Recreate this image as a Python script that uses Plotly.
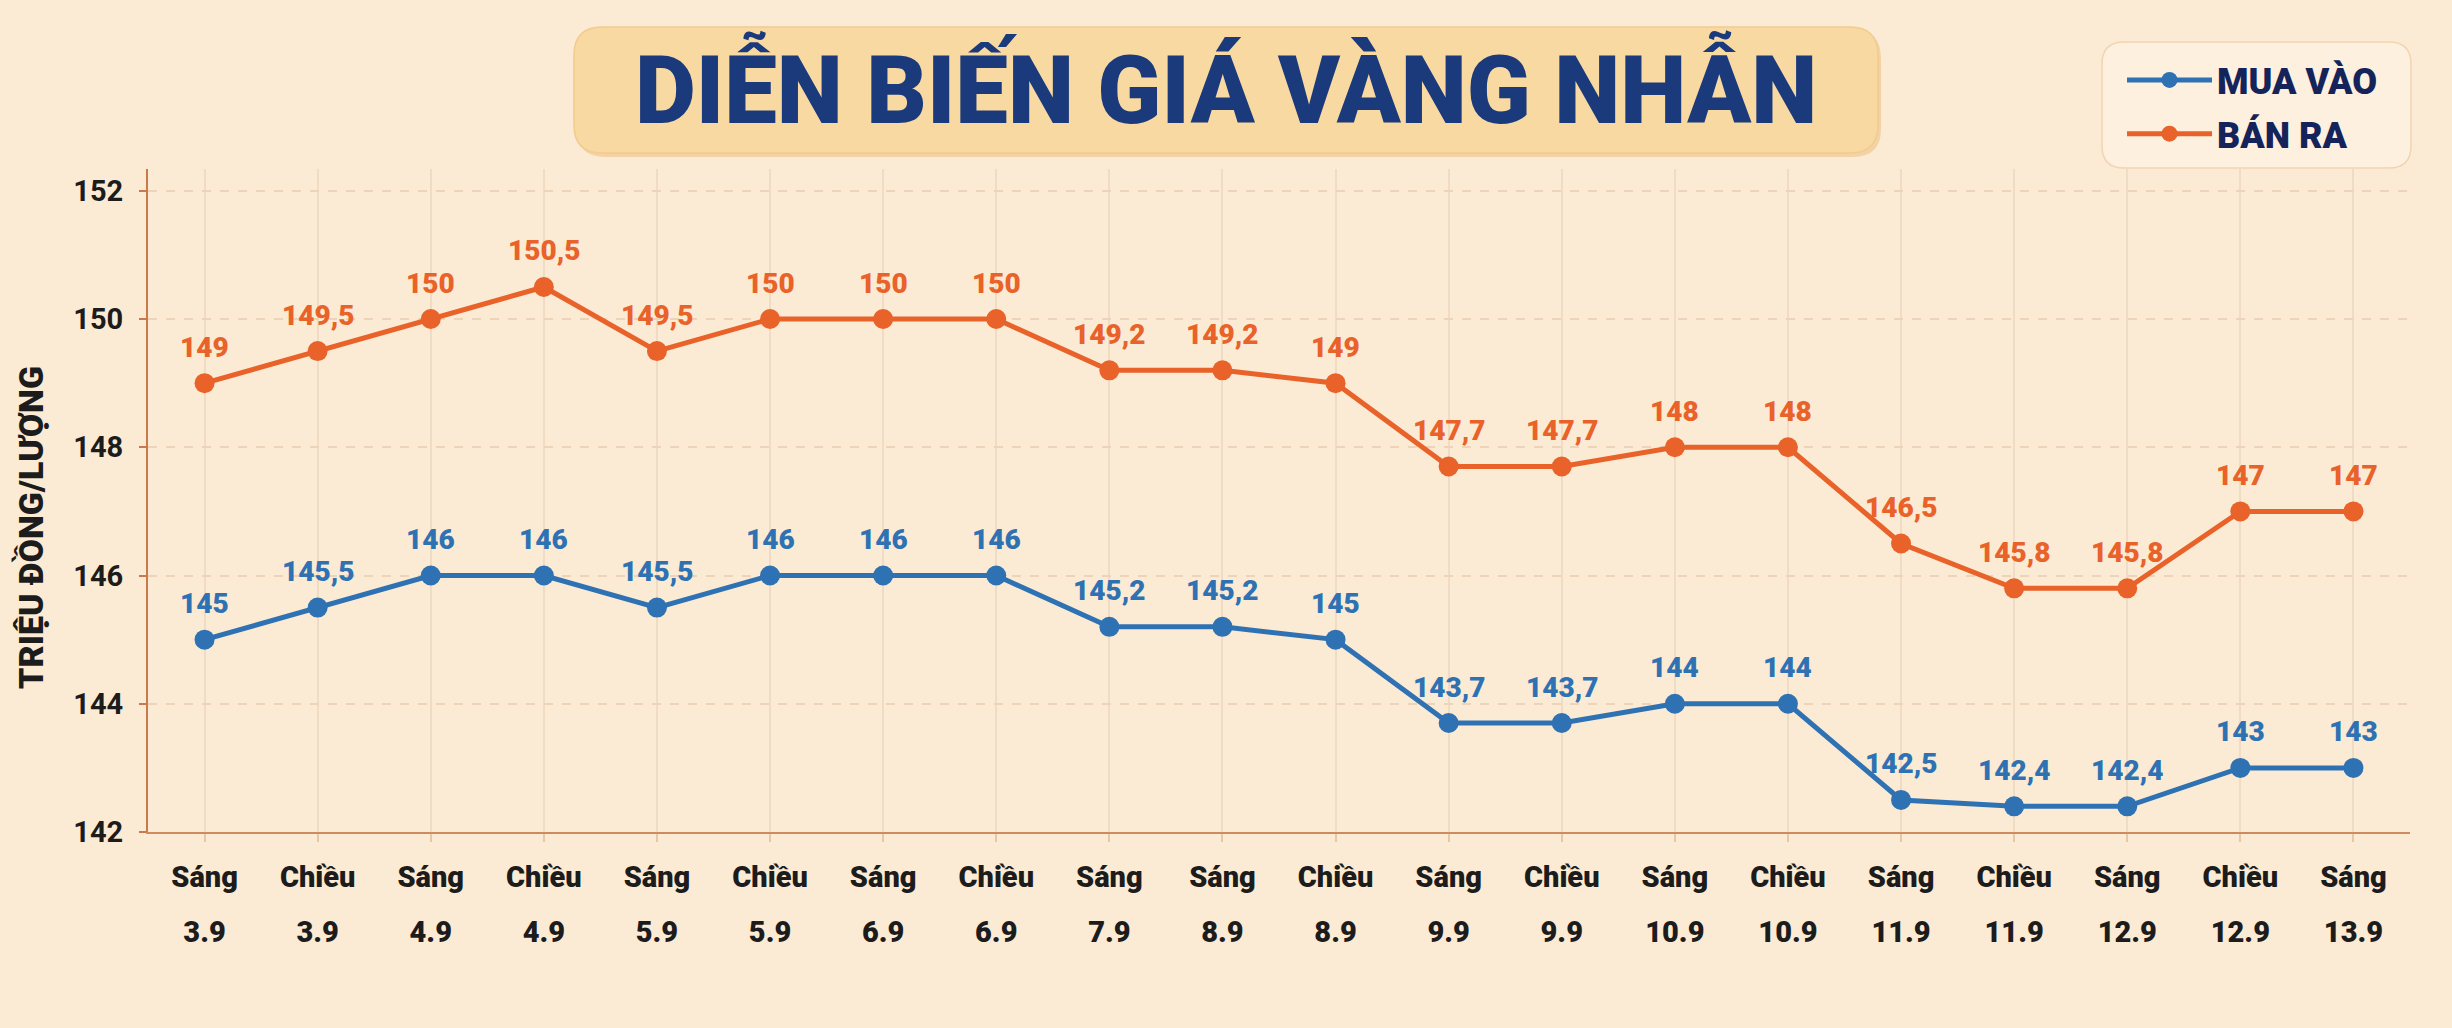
import plotly.graph_objects as go

# ---------------- data ----------------
sessions = ["Sáng", "Chiều", "Sáng", "Chiều", "Sáng", "Chiều", "Sáng", "Chiều", "Sáng", "Sáng",
            "Chiều", "Sáng", "Chiều", "Sáng", "Chiều", "Sáng", "Chiều", "Sáng", "Chiều", "Sáng"]
dates = ["3.9", "3.9", "4.9", "4.9", "5.9", "5.9", "6.9", "6.9", "7.9", "8.9",
         "8.9", "9.9", "9.9", "10.9", "10.9", "11.9", "11.9", "12.9", "12.9", "13.9"]
mua_vao = [145, 145.5, 146, 146, 145.5, 146, 146, 146, 145.2, 145.2,
           145, 143.7, 143.7, 144, 144, 142.5, 142.4, 142.4, 143, 143]
ban_ra = [149, 149.5, 150, 150.5, 149.5, 150, 150, 150, 149.2, 149.2,
          149, 147.7, 147.7, 148, 148, 146.5, 145.8, 145.8, 147, 147]
y_ticks = [142, 144, 146, 148, 150, 152]

title_text = "DIỄN BIẾN GIÁ VÀNG NHẪN"
y_title = "TRIỆU ĐỒNG/LƯỢNG"
series_names = ["MUA VÀO", "BÁN RA"]

# ---------------- style ----------------
W, H = 2452, 1028
L, R, T, B = 148, 42, 169, 196
PW, PH = W - L - R, H - T - B
BG = "#FCEBD4"
BLUE = "#2F72B3"
ORANGE = "#E8622A"
NAVY = "#1B3A7C"
LEGEND_NAVY = "#14245A"
INK = "#1C1C1C"
AXIS = "#C9794A"
FONT = "Roboto"

idx = list(range(len(sessions)))


def px_x(px):
    return (px - L) / PW


def px_y(py):
    return (H - B - py) / PH


def rounded_rect(x0, y0, x1, y1, r):
    pts = [
        ("M", [(x0 + r, y0)]),
        ("L", [(x1 - r, y0)]),
        ("Q", [(x1, y0), (x1, y0 + r)]),
        ("L", [(x1, y1 - r)]),
        ("Q", [(x1, y1), (x1 - r, y1)]),
        ("L", [(x0 + r, y1)]),
        ("Q", [(x0, y1), (x0, y1 - r)]),
        ("L", [(x0, y0 + r)]),
        ("Q", [(x0, y0), (x0 + r, y0)]),
    ]
    s = ""
    for cmd, ps in pts:
        s += cmd + " " + " ".join(f"{px_x(a):.5f},{px_y(b):.5f}" for a, b in ps) + " "
    return s + "Z"


def fmt(v):
    return f"{v:g}".replace(".", ",")


fig = go.Figure()
for name, vals, col in [(series_names[0], mua_vao, BLUE), (series_names[1], ban_ra, ORANGE)]:
    fig.add_trace(go.Scatter(
        x=idx, y=vals, name=name, mode="lines+markers",
        line=dict(color=col, width=5),
        marker=dict(color=col, size=20),
        legendgroup=name,
    ))

# carrier trace for the second row of x labels (dates)
fig.add_trace(go.Scatter(
    x=idx, y=mua_vao, xaxis="x2", mode="markers",
    marker=dict(size=1, opacity=0), showlegend=False, hoverinfo="skip",
))

annotations = []
for vals, col in [(mua_vao, BLUE), (ban_ra, ORANGE)]:
    for i, v in zip(idx, vals):
        annotations.append(dict(
            x=i, y=v, xref="x", yref="y", text=fmt(v), showarrow=False,
            yshift=36, font=dict(family=FONT, size=28, color=col, weight=900),
        ))

# title
annotations.append(dict(
    x=px_x(1226), y=px_y(88), xref="paper", yref="paper", text=title_text,
    showarrow=False, xanchor="center", yanchor="middle",
    font=dict(family=FONT, size=94, color=NAVY, weight=900),
))
# y axis title
annotations.append(dict(
    x=px_x(31), y=px_y(528), xref="paper", yref="paper", text=y_title,
    showarrow=False, textangle=-90, xanchor="center", yanchor="middle",
    font=dict(family=FONT, size=34, color=INK, weight=900),
))

shapes = [
    dict(type="path", xref="paper", yref="paper", path=rounded_rect(577, 30, 1881, 157, 28),
         fillcolor="#F3D3A6", line=dict(width=0), layer="below"),
    dict(type="path", xref="paper", yref="paper", path=rounded_rect(574, 27, 1878, 153, 28),
         fillcolor="#F8D9A1", line=dict(color="#F1CB90", width=1.5), layer="below"),
    dict(type="path", xref="paper", yref="paper", path=rounded_rect(2102, 42, 2411, 168, 22),
         fillcolor="#FDF0DF", line=dict(color="#F2D4B0", width=1.5), layer="below"),
]

fig.update_layout(
    width=W, height=H,
    margin=dict(l=L, r=R, t=T, b=B, pad=0),
    paper_bgcolor=BG, plot_bgcolor=BG,
    showlegend=True,
    legend=dict(
        x=px_x(2122), y=px_y(50), xanchor="left", yanchor="top",
        bgcolor="rgba(0,0,0,0)", borderwidth=0,
        font=dict(family=FONT, size=36, color=LEGEND_NAVY, weight=900),
        itemwidth=85, tracegroupgap=4,
    ),
    annotations=annotations,
    shapes=shapes,
    xaxis=dict(
        range=[-0.5, len(idx) - 0.5], tickmode="array", tickvals=idx, ticktext=sessions,
        showgrid=True, gridcolor="#F0DCC4", gridwidth=1.5,
        showline=True, linecolor="#CF8A5E", linewidth=2,
        ticks="outside", ticklen=8, tickcolor="#E6C7A6", tickwidth=1.5,
        tickfont=dict(family=FONT, size=29, color=INK, weight=900),
        ticklabelstandoff=10, zeroline=False,
    ),
    xaxis2=dict(
        overlaying="x", matches="x", anchor="y", side="bottom",
        range=[-0.5, len(idx) - 0.5], tickmode="array", tickvals=idx, ticktext=dates,
        showgrid=False, showline=False, ticks="", zeroline=False,
        tickfont=dict(family=FONT, size=29, color=INK, weight=900),
        ticklabelstandoff=80,
    ),
    yaxis=dict(
        range=[142, 152.34], tickmode="array", tickvals=y_ticks,
        showgrid=True, gridcolor="#EDD3B8", gridwidth=1.5, griddash="dash",
        showline=True, linecolor=AXIS, linewidth=2,
        ticks="outside", ticklen=7, tickcolor=AXIS, tickwidth=2,
        tickfont=dict(family=FONT, size=29, color=INK, weight="bold"),
        ticklabelstandoff=10, zeroline=False,
    ),
)

fig.write_html(
    "out.html",
    config={"displayModeBar": False},
    post_script="document.body.style.margin='0';document.body.style.overflow='hidden';",
)
